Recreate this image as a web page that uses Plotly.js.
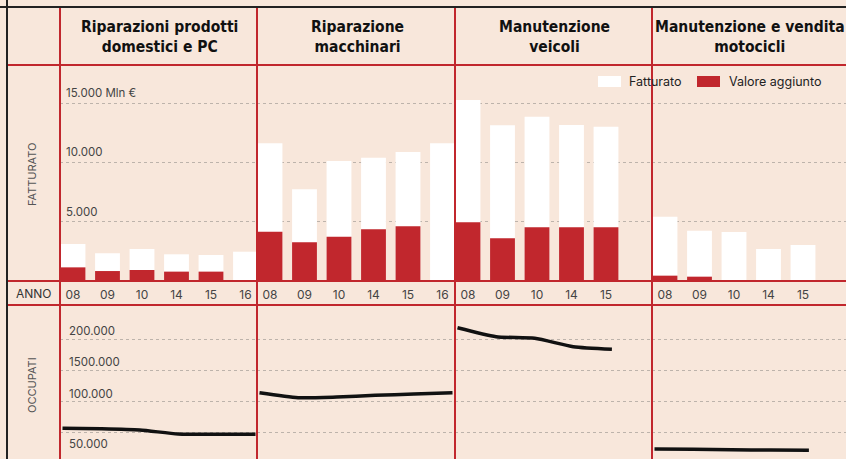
<!DOCTYPE html>
<html>
<head>
<meta charset="utf-8">
<script src="https://cdn.plot.ly/plotly-3.0.1.min.js"></script>
<style>
  html, body { margin: 0; padding: 0; background: #f8e7db; }
  #chart { width: 846px; height: 459px; }
</style>
</head>
<body>
<div id="chart"></div>
<script>
// ---------- DATA ----------
const titles = [
  "Riparazioni prodotti<br>domestici e PC",
  "Riparazione<br>macchinari",
  "Manutenzione<br>veicoli",
  "Manutenzione e vendita<br>motocicli"
];
const yearsDomestici = ["08", "09", "10", "14", "15", "16"];
const yearsMacchinari = ["08", "09", "10", "14", "15", "16"];
const yearsVeicoli = ["08", "09", "10", "14", "15"];
const yearsMotocicli = ["08", "09", "10", "14", "15"];

const fatturatoDomestici = [3120, 2340, 2700, 2250, 2190, 2470];
const valoreDomestici = [1150, 840, 930, 790, 790, 0];
const occupatiDomestici = [57500, 56700, 54800, 48400, 47900, 47900];

const fatturatoMacchinari = [11610, 7730, 10120, 10400, 10880, 11610];
const valoreMacchinari = [4160, 3260, 3740, 4360, 4610, 0];
const occupatiMacchinari = [114300, 106300, 107400, 110200, 112200, 114300];

const fatturatoVeicoli = [15260, 13130, 13850, 13150, 13010];
const valoreVeicoli = [4950, 3600, 4530, 4530, 4530];
const occupatiVeicoli = [218000, 203700, 201100, 187700, 183600];

const fatturatoMotocicli = [5420, 4240, 4130, 2700, 3035];
const valoreMotocicli = [450, 365, 0, 0, 0];
const occupatiMotocicli = [24500, 24000, 23300, 22700, 22400];

const fatturatoTicks = [5000, 10000, 15000];
const fatturatoTickText = ["5.000", "10.000", "15.000 Mln €"];
const occupatiTicks = [50000, 100000, 150000, 200000];
const occupatiTickText = ["50.000", "100.000", "1500.000", "200.000"];

const seriesNames = ["Fatturato", "Valore aggiunto"];

// ---------- STYLE ----------
const W = 846, H = 459;
const BG = "#f8e7db";
const RED = "#c1272d";
const GRID = "#bdb3ab";
const TXT = "#3a3a3a";
const px = x => x / W;
const py = y => 1 - y / H;

const colLeft = [60, 257, 455, 652];
const colRight = [257, 455, 652, 846];
const topTop = 65, topBottom = 281, botTop = 305, botBottom = 459;

const cols = [
  {years: yearsDomestici, f: fatturatoDomestici, v: valoreDomestici, o: occupatiDomestici},
  {years: yearsMacchinari, f: fatturatoMacchinari, v: valoreMacchinari, o: occupatiMacchinari},
  {years: yearsVeicoli, f: fatturatoVeicoli, v: valoreVeicoli, o: occupatiVeicoli},
  {years: yearsMotocicli, f: fatturatoMotocicli, v: valoreMotocicli, o: occupatiMotocicli}
];

const barStep = 34.5, barOffset = 13;
const lineStep = 38.6, lineOffset = 2.5;

const traces = [];
const layout = {
  width: W, height: H,
  margin: {l: 0, r: 0, t: 0, b: 0},
  paper_bgcolor: BG, plot_bgcolor: "rgba(0,0,0,0)",
  barmode: "overlay",
  showlegend: false,
  font: {family: "Inter, Roboto, sans-serif", color: TXT},
  shapes: [], annotations: []
};

cols.forEach((c, i) => {
  const up = i + 1, lo = i + 5;
  const xu = up === 1 ? "x" : "x" + up, yu = up === 1 ? "y" : "y" + up;
  const xl = "x" + lo, yl = "y" + lo;
  const width = colRight[i] - colLeft[i];

  traces.push({type: "bar", name: seriesNames[0], x: c.years, y: c.f, xaxis: xu, yaxis: yu,
    width: 0.72, marker: {color: "#ffffff", line: {width: 0}}, hoverinfo: "x+y"});
  traces.push({type: "bar", name: seriesNames[1], x: c.years, y: c.v, xaxis: xu, yaxis: yu,
    width: 0.72, marker: {color: RED, line: {width: 0}}, hoverinfo: "x+y"});
  traces.push({type: "scatter", mode: "lines", x: c.years, y: c.o, xaxis: xl, yaxis: yl,
    line: {color: "#111111", width: 3.5, shape: "spline", smoothing: 0.6}, hoverinfo: "x+y"});

  const r0b = -barOffset / barStep;
  const r0l = -lineOffset / lineStep;
  layout["xaxis" + (up === 1 ? "" : up)] = {
    domain: [px(colLeft[i]), px(colRight[i])], anchor: yu, type: "category",
    range: [r0b, r0b + width / barStep], showgrid: false, zeroline: false, showline: false,
    ticks: "outside", ticklen: 3, tickcolor: "rgba(0,0,0,0)",
    tickfont: {size: 12, color: "#444", family: "Inter, Roboto, sans-serif"}, fixedrange: true
  };
  layout["yaxis" + (up === 1 ? "" : up)] = {
    domain: [py(topBottom), py(topTop)], anchor: xu, range: [0, 18210],
    tickvals: fatturatoTicks, showticklabels: false, showgrid: true,
    gridcolor: GRID, griddash: "dot", gridwidth: 1, zeroline: false, showline: false, fixedrange: true
  };
  layout["xaxis" + lo] = {
    domain: [px(colLeft[i]), px(colRight[i])], anchor: yl, type: "category",
    range: [r0l, r0l + width / lineStep], showgrid: false, zeroline: false, showline: false,
    showticklabels: false, fixedrange: true
  };
  layout["yaxis" + lo] = {
    domain: [py(botBottom), py(botTop)], anchor: xl, range: [8500, 254250],
    tickvals: occupatiTicks, showticklabels: false, showgrid: true,
    gridcolor: GRID, griddash: "dot", gridwidth: 1, zeroline: false, showline: false, fixedrange: true
  };

  // Column title
  layout.annotations.push({
    xref: "paper", yref: "paper", x: px((colLeft[i] + colRight[i]) / 2 + 1), y: py(37),
    xanchor: "center", yanchor: "middle", showarrow: false, align: "center",
    text: "<b>" + titles[i] + "</b>",
    font: {family: "DejaVu Sans Condensed, Liberation Sans Narrow, sans-serif", size: 15.5, color: "#111"}
  });
});

// Y tick labels (first column only)
fatturatoTicks.forEach((v, k) => {
  layout.annotations.push({xref: "x domain", yref: "y", x: 0, y: v, xshift: 4, yshift: 1,
    xanchor: "left", yanchor: "bottom", showarrow: false, text: fatturatoTickText[k],
    font: {size: 11.5, color: "#444"}});
});
occupatiTicks.forEach((v, k) => {
  const below = v === 50000;
  layout.annotations.push({xref: "x5 domain", yref: "y5", x: 0, y: v, xshift: 7, yshift: below ? -2 : -1,
    xanchor: "left", yanchor: below ? "top" : "bottom", showarrow: false, text: occupatiTickText[k],
    font: {size: 11.5, color: "#444"}});
});

// Row labels
layout.annotations.push({xref: "paper", yref: "paper", x: px(34), y: py(293), xanchor: "center", yanchor: "middle",
  showarrow: false, text: "ANNO", font: {size: 12, color: "#333"}});
layout.annotations.push({xref: "paper", yref: "paper", x: px(32), y: py(175), xanchor: "center", yanchor: "middle",
  showarrow: false, text: "FATTURATO", textangle: -90, font: {size: 11, color: "#555"}});
layout.annotations.push({xref: "paper", yref: "paper", x: px(32), y: py(385), xanchor: "center", yanchor: "middle",
  showarrow: false, text: "OCCUPATI", textangle: -90, font: {size: 11, color: "#555"}});

// Legend (manual)
layout.shapes.push({type: "rect", xref: "paper", yref: "paper", x0: px(598), x1: px(621), y0: py(87), y1: py(76),
  fillcolor: "#ffffff", line: {width: 0}});
layout.shapes.push({type: "rect", xref: "paper", yref: "paper", x0: px(697), x1: px(720), y0: py(87), y1: py(76),
  fillcolor: RED, line: {width: 0}});
layout.annotations.push({xref: "paper", yref: "paper", x: px(627), y: py(82), xanchor: "left", yanchor: "middle",
  showarrow: false, text: seriesNames[0], font: {size: 12.5, color: "#222"}});
layout.annotations.push({xref: "paper", yref: "paper", x: px(727), y: py(82), xanchor: "left", yanchor: "middle",
  showarrow: false, text: seriesNames[1], font: {size: 12.5, color: "#222"}});

// Table lines
[65, 281, 305].forEach(y => layout.shapes.push({type: "line", xref: "paper", yref: "paper",
  x0: px(7), x1: 1, y0: py(y), y1: py(y), line: {color: RED, width: 2}, layer: "above"}));
colLeft.forEach(x => layout.shapes.push({type: "line", xref: "paper", yref: "paper",
  x0: px(x), x1: px(x), y0: py(7), y1: 0, line: {color: RED, width: 2}, layer: "above"}));
layout.shapes.push({type: "line", xref: "paper", yref: "paper", x0: 0, x1: 1, y0: py(7), y1: py(7),
  line: {color: "#222", width: 2}, layer: "above"});
layout.shapes.push({type: "line", xref: "paper", yref: "paper", x0: px(7), x1: px(7), y0: 1, y1: 0,
  line: {color: "#222", width: 2}, layer: "above"});

Plotly.newPlot("chart", traces, layout, {displayModeBar: false, staticPlot: true});
</script>
</body>
</html>
